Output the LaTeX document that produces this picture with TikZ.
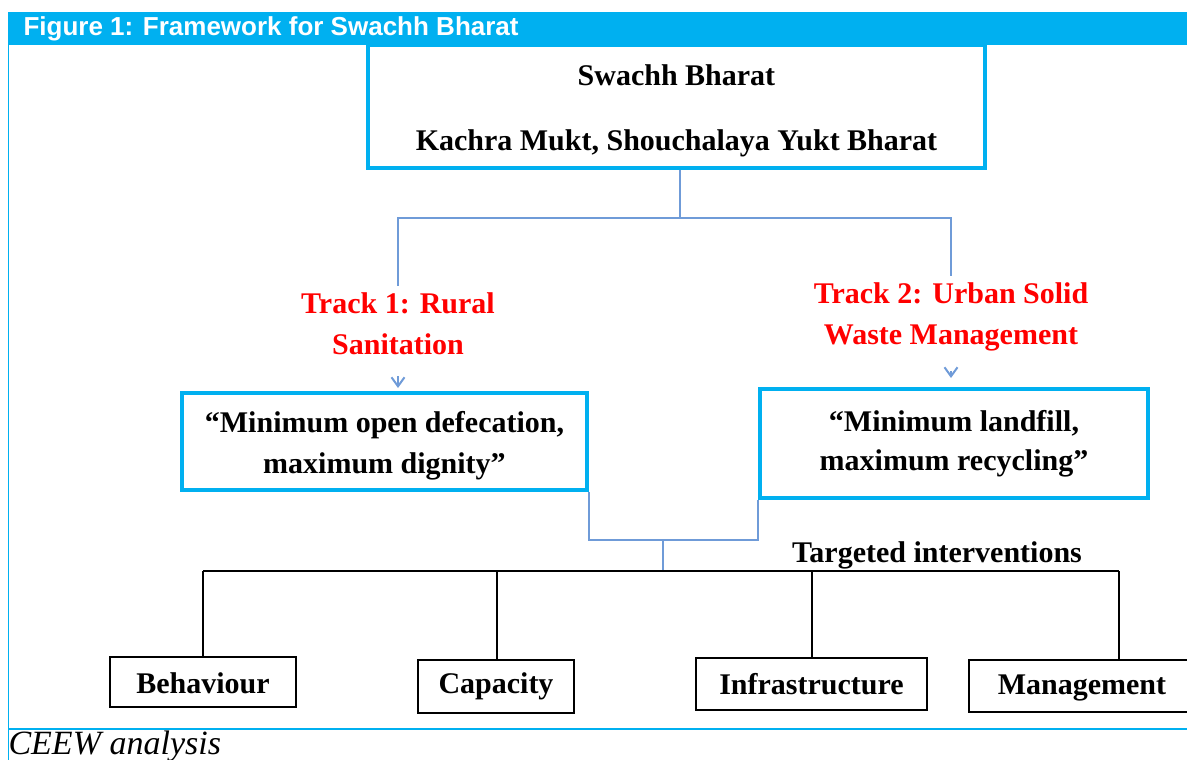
\documentclass[tikz,border=0pt]{standalone}
\usepackage{fontspec}
\setmainfont{Liberation Serif}
\newfontfamily\hdrfont{Liberation Sans}
\usetikzlibrary{arrows.meta}
\definecolor{ceewblue}{HTML}{00B0F0}
\definecolor{linkblue}{HTML}{6F9BD8}
\begin{document}
\begin{tikzpicture}[x=1pt, y=-1pt,
    bigbox/.style={draw=ceewblue, line width=4pt, align=center, font=\fontsize{30}{34}\selectfont\bfseries},
    track/.style={text=red, align=center, inner sep=1pt, font=\fontsize{30}{41}\selectfont\bfseries},
    item/.style={draw, line width=2pt, minimum height=50pt, font=\fontsize{30}{34}\selectfont\bfseries},
    link/.style={draw=linkblue, line width=1.5pt},
    bar/.style={draw=black, line width=1.5pt}]
    \useasboundingbox (0,0) rectangle (1187,760);
    % header and frame
    \fill[ceewblue] (8,12) rectangle (1187,45);
    \node[anchor=west, text=white, font=\hdrfont\fontsize{26}{30}\selectfont\bfseries] (title) at (20,29) {Figure 1: Framework for Swachh Bharat};
    \draw[ceewblue, line width=1pt] (8,45) -- (8,760);
    \draw[ceewblue, line width=2.5pt] (8,729) -- (1187,729);
    \node[anchor=west, font=\fontsize{34}{38}\selectfont\itshape] (src) at (5,746) {CEEW analysis};

    \node[bigbox, minimum width=617pt, minimum height=123pt] (top) at (676.5,106.5) {\rule{0pt}{30pt}Swachh Bharat\\[31pt]Kachra Mukt, Shouchalaya Yukt Bharat};
    \node[track] (t1) at (398,324) {Track 1: Rural\\Sanitation};
    \node[track] (t2) at (951,317) {Track 2: Urban Solid\\Waste Management};
    \node[bigbox, minimum width=405pt, minimum height=97pt] (g1) at (384.5,441.5) {\rule{0pt}{30pt}``Minimum open defecation,\\[7pt]maximum dignity''};
    \node[bigbox, minimum width=388pt, minimum height=109pt] (g2) at (954,443.5) {``Minimum landfill,\\[5pt]maximum recycling''};

    \coordinate (fork) at (680,218);
    \draw[link] (top.south -| fork) -- (fork);
    \draw[link, shorten >=6pt] (fork) -| (t1.north);
    \draw[link, shorten >=6pt] (fork) -| (t2.north);
    \draw[link, line width=2pt, -{Straight Barb[length=9pt, width=13pt]}, shorten <=20pt, shorten >=3pt] (t1.south) -- (t1.south |- g1.north);
    \draw[link, line width=2pt, -{Straight Barb[length=9pt, width=13pt]}, shorten <=19pt, shorten >=9pt] (t2.south) -- (t2.south |- g2.north);
    \draw[link] (g1.south east) -- ++(0,48) -| (g2.south west);
    \coordinate (join) at (663,540);
    \coordinate (hub) at (663,571);
    \draw[link] (join) -- (hub);

    \node[font=\fontsize{30}{34}\selectfont\bfseries] (ti) at (937,555) {Targeted interventions};
    \node[item, minimum width=186pt] (beh) at (203,682) {\rule{0pt}{24pt}Behaviour};
    \node[item, minimum width=156pt, minimum height=53pt] (cap) at (496,686.5) {Capacity};
    \node[item, minimum width=231pt, minimum height=52pt] (inf) at (811.5,684) {Infrastructure};
    \node[item, minimum width=226pt, minimum height=52pt] (man) at (1082,686) {\rule{0pt}{24pt}Management};

    \coordinate (dbeh) at (203,571);
    \coordinate (dcap) at (497,571);
    \coordinate (dinf) at (812,571);
    \coordinate (dman) at (1119,571);
    \draw[bar] (dbeh) -- (dman);
    \foreach \n in {beh,cap,inf,man}
    \draw[bar] (d\n) -- (d\n |- \n.north);
\end{tikzpicture}
\end{document}
